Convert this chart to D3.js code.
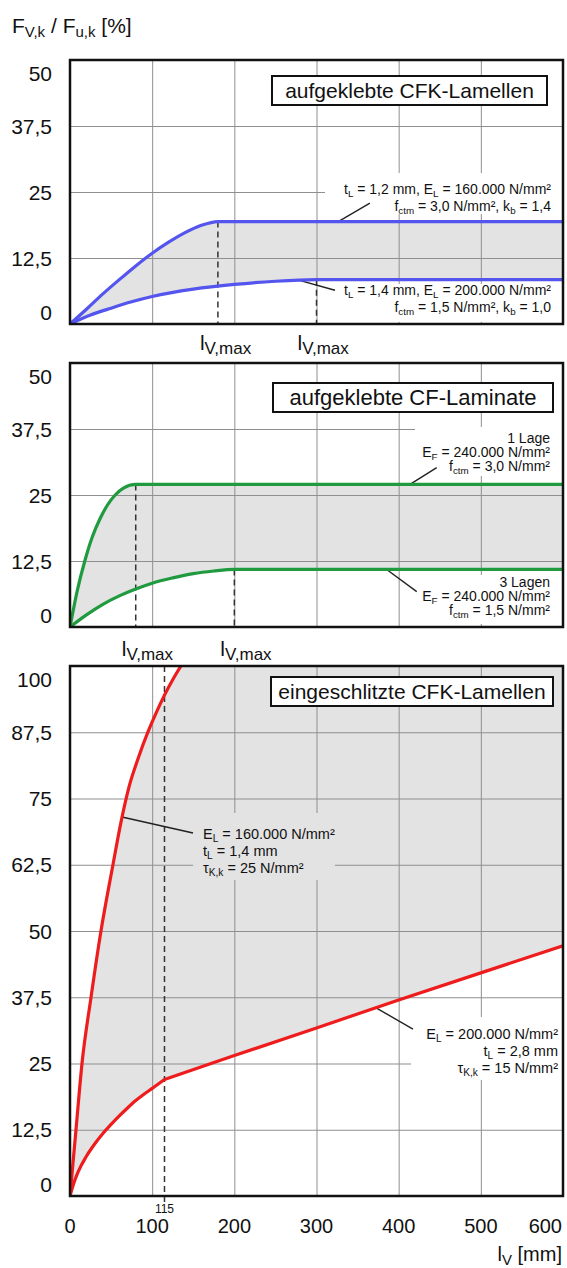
<!DOCTYPE html>
<html><head><meta charset="utf-8">
<script src="https://cdn.jsdelivr.net/npm/d3@7"></script>
<style>body{margin:0;background:#fff} text{font-family:"Liberation Sans", Arial, sans-serif;fill:#111}</style>
</head><body><svg id="c" width="567" height="1268"></svg>
<script>
// ---------- DATA ----------
const xTicks = [0,100,200,300,400,500,600];
const yTicksSmall = [0,12.5,25,37.5,50];
const yTicksBig = [0,12.5,25,37.5,50,62.5,75,87.5,100];

// Panel 1: aufgeklebte CFK-Lamellen
const p1UpperX = [0,20,40,60,80,100,120,140,160,180,600];
const p1UpperY = [0,2.8,5.7,8.4,11,13.4,15.5,17.3,18.7,19.4,19.4];
const p1LowerX = [0,25,50,75,100,150,200,250,300,600];
const p1LowerY = [0,1.7,3.0,4.2,5.2,6.6,7.5,8.1,8.4,8.4];
const p1LvMax = [180,300];

// Panel 2: aufgeklebte CF-Laminate
const p2UpperX = [0,9,18,27,36.5,46,55,65,80,600];
const p2UpperY = [0,7,12.5,17,20.5,23.2,25,26.3,27,27];
const p2LowerX = [0,20,40,60,80,100,125,150,175,200,600];
const p2LowerY = [0,2.3,4.3,5.9,7.2,8.3,9.3,10.1,10.6,10.9,10.9];
const p2LvMax = [80,200];

// Panel 3: eingeschlitzte CFK-Lamellen
const p3UpperX = [0,7.3,14.6,25.6,37.7,52.3,62,72,83,95,105,115,125,135];
const p3UpperY = [0,12.5,25,37.5,50,62.5,70.5,77.3,82.6,87.6,91.2,94.5,97.4,100];
const p3LowerX = [0,5,10,20,30,40,50,60,70,80,90,100,115];
const p3LowerY = [0,2.6,4.6,7.5,9.8,11.8,13.5,15.1,16.6,18,19.2,20.3,22];
const p3LowerLineX = [115,200,300,400,500,600];
const p3LowerLineY = [22,26.5,31.7,37,42.1,47.2];
const p3Mark = 115;

// ---------- SETUP ----------
const svg = d3.select("#c");
const BLUE="#5454ee", GREEN="#1f9a3e", RED="#ee1c1c", FILL="#e3e3e3", GRID="#8f8f8f";
const x = d3.scaleLinear([0,600],[70,563]);
const yTop = d3.scaleLinear([0,50],[324,60]);
const yMid = d3.scaleLinear([0,50],[627,363]);
const yBot = d3.scaleLinear([0,100],[1196,666]);
const fmt = d => String(d).replace(".", ",");
const zip = (xs, ys) => xs.map((v,i)=>[v, ys[i]]);

function rich(g, xpos, ypos, parts, size, anchor){
  const t = g.append("text").attr("x",xpos).attr("y",ypos)
    .attr("font-size",size).attr("text-anchor",anchor||"start");
  let back = 0;
  parts.forEach(p=>{
    if(typeof p === "string"){
      const s = t.append("tspan").text(p);
      if(back){ s.attr("dy",-back); back = 0; }
    } else {
      const s = p.size || size*0.7, dy = p.dy!=null ? p.dy : size*0.2;
      t.append("tspan").attr("font-size",s).attr("dy",dy - back).text(p.sub);
      back = dy;
    }
  });
  return t;
}

function panel(y, ticks, areaPath, clipId){
  const g = svg.append("g");
  const [y0,y1] = y.range();
  g.append("clipPath").attr("id",clipId).append("rect")
    .attr("x",x(0)).attr("y",y1).attr("width",x(600)-x(0)).attr("height",y0-y1);
  const line = d3.line().x(d=>x(d[0])).y(d=>y(d[1])).curve(d3.curveMonotoneX);
  const lin = d3.line().x(d=>x(d[0])).y(d=>y(d[1]));
  g.append("path").attr("d", areaPath(line, lin)).attr("fill",FILL).attr("clip-path",`url(#${clipId})`);
  g.append("g").attr("transform",`translate(0,${y0})`)
    .call(d3.axisBottom(x).tickValues(xTicks.slice(1,-1)).tickSize(-(y0-y1)).tickFormat(""))
    .call(a=>{a.select(".domain").remove(); a.selectAll("line").attr("stroke",GRID).attr("stroke-width",1);});
  g.append("g").attr("transform",`translate(${x(0)},0)`)
    .call(d3.axisLeft(y).tickValues(ticks.slice(1,-1)).tickSize(-(x(600)-x(0))).tickFormat(""))
    .call(a=>{a.select(".domain").remove(); a.selectAll("line").attr("stroke",GRID).attr("stroke-width",1);});
  const last = ticks.length-1;
  g.append("g").selectAll("text").data(ticks).join("text")
    .attr("x",52).attr("y",(d,i)=>y(d) + (i===0?-12:(i===last?13:0)))
    .attr("dy","0.36em").attr("text-anchor","end").attr("font-size",21).text(fmt);
  return {g, line, lin, clip:`url(#${clipId})`};
}

function curves(P, paths, color){
  const g = P.g.append("g").attr("clip-path",P.clip);
  paths.forEach(d=>{
    g.append("path").attr("d",d).attr("fill","none")
      .attr("stroke",color).attr("stroke-width",3.2).attr("stroke-linejoin","round");
  });
}
function border(P, y){
  const [y0,y1] = y.range();
  P.g.append("rect").attr("x",x(0)).attr("y",y1).attr("width",x(600)-x(0)).attr("height",y0-y1)
    .attr("fill","none").attr("stroke","#111").attr("stroke-width",2.5);
}
function titleBox(P, x0, x1, ytop, txt, size){
  P.g.append("rect").attr("x",x0).attr("y",ytop).attr("width",x1-x0).attr("height",29)
    .attr("fill","#fff").attr("stroke","#111").attr("stroke-width",2);
  P.g.append("text").attr("x",(x0+x1)/2).attr("y",ytop+22).attr("font-size",size)
    .attr("text-anchor","middle").text(txt);
}
function bg(P, x0, y0, x1, y1, fill){
  P.g.append("rect").attr("x",x0).attr("y",y0).attr("width",x1-x0).attr("height",y1-y0).attr("fill",fill);
}
function leader(P, y, a, b){
  P.g.append("line").attr("x1",x(a[0])).attr("y1",y(a[1])).attr("x2",x(b[0])).attr("y2",y(b[1]))
    .attr("stroke","#222").attr("stroke-width",1.4);
}
function dashed(P, y, xv, top, bottom){
  P.g.append("line").attr("x1",x(xv)).attr("x2",x(xv)).attr("y1",y(top)).attr("y2",y(bottom))
    .attr("stroke","#333").attr("stroke-width",1.5).attr("stroke-dasharray","6,4");
}
function lvmax(P, xv, base, off){
  rich(P.g, x(xv)-off, base, ["l",{sub:"V,max", size:17, dy:4}], 21);
}

// ---------- PANEL 1 ----------
const U1 = zip(p1UpperX,p1UpperY), L1 = zip(p1LowerX,p1LowerY);
const P1 = panel(yTop, yTicksSmall, line => line(U1) + "L" + line(L1.slice().reverse()).slice(1) + "Z", "c1");
titleBox(P1, 272, 547, 76, "aufgeklebte CFK-Lamellen", 21);
bg(P1, 325, 173, 562, 214, "#fff");
bg(P1, 338, 284, 562, 322, "#fff");
dashed(P1, yTop, p1LvMax[0], p1UpperY[9], 0);
dashed(P1, yTop, p1LvMax[1], p1LowerY[8], 0);
leader(P1, yTop, [326.5,19.4],[365,22.9]);
leader(P1, yTop, [276,8.4],[322.5,6.4]);
rich(P1.g, 551, 194, ["t",{sub:"L"}," = 1,2 mm, E",{sub:"L"}," = 160.000 N/mm²"], 14, "end");
rich(P1.g, 551, 211, ["f",{sub:"ctm"}," = 3,0 N/mm², k",{sub:"b"}," = 1,4"], 14, "end");
rich(P1.g, 551, 295, ["t",{sub:"L"}," = 1,4 mm, E",{sub:"L"}," = 200.000 N/mm²"], 14, "end");
rich(P1.g, 551, 312, ["f",{sub:"ctm"}," = 1,5 N/mm², k",{sub:"b"}," = 1,0"], 14, "end");
curves(P1, [P1.line(U1), P1.line(L1)], BLUE);
border(P1, yTop);
lvmax(P1, p1LvMax[0], 350, 18);
lvmax(P1, p1LvMax[1], 350, 19);

// ---------- PANEL 2 ----------
const U2 = zip(p2UpperX,p2UpperY), L2 = zip(p2LowerX,p2LowerY);
const P2 = panel(yMid, yTicksSmall, line => line(U2) + "L" + line(L2.slice().reverse()).slice(1) + "Z", "c2");
titleBox(P2, 273, 553, 383, "aufgeklebte CF-Laminate", 22);
bg(P2, 415, 427, 562, 476, "#fff");
bg(P2, 415, 575, 562, 624, "#fff");
dashed(P2, yMid, p2LvMax[0], p2UpperY[8], 0);
dashed(P2, yMid, p2LvMax[1], p2LowerY[9], 0);
leader(P2, yMid, [413.8,27],[446.3,30.2]);
leader(P2, yMid, [385.4,10.9],[422,6.7]);
rich(P2.g, 550, 443, ["1 Lage"], 14, "end");
rich(P2.g, 550, 457, ["E",{sub:"F"}," = 240.000 N/mm²"], 14, "end");
rich(P2.g, 550, 471, ["f",{sub:"ctm"}," = 3,0 N/mm²"], 14, "end");
rich(P2.g, 550, 587, ["3 Lagen"], 14, "end");
rich(P2.g, 550, 601, ["E",{sub:"F"}," = 240.000 N/mm²"], 14, "end");
rich(P2.g, 550, 615, ["f",{sub:"ctm"}," = 1,5 N/mm²"], 14, "end");
curves(P2, [P2.line(U2), P2.line(L2)], GREEN);
border(P2, yMid);
lvmax(P2, p2LvMax[0], 656, 14);
lvmax(P2, p2LvMax[1], 656, 14);

// ---------- PANEL 3 ----------
const U3 = zip(p3UpperX,p3UpperY), L3 = zip(p3LowerX,p3LowerY), L3b = zip(p3LowerLineX,p3LowerLineY);
const P3 = panel(yBot, yTicksBig,
  (line, lin) => line(U3) + "L" + x(600) + "," + yBot(100) + "L" + lin(L3b.slice().reverse()).slice(1)
    + "L" + line(L3.slice().reverse()).slice(1) + "Z", "c3");
titleBox(P3, 271, 553, 677, "eingeschlitzte CFK-Lamellen", 21);
bg(P3, 193, 813, 335, 880, FILL);
bg(P3, 411, 1017, 562, 1080, "#fff");
dashed(P3, yBot, p3Mark, 100, -1.6);
leader(P3, yBot, [63.3,71.5],[149.7,68.5]);
leader(P3, yBot, [373.6,35.4],[417.4,31.5]);
rich(P3.g, 203, 839, ["E",{sub:"L"}," = 160.000 N/mm²"], 14.5);
rich(P3.g, 203, 856, ["t",{sub:"L"}," = 1,4 mm"], 14.5);
rich(P3.g, 203, 873, ["τ",{sub:"K,k"}," = 25 N/mm²"], 14.5);
rich(P3.g, 558, 1039, ["E",{sub:"L"}," = 200.000 N/mm²"], 14.5, "end");
rich(P3.g, 558, 1056, ["t",{sub:"L"}," = 2,8 mm"], 14.5, "end");
rich(P3.g, 558, 1073, ["τ",{sub:"K,k"}," = 15 N/mm²"], 14.5, "end");
curves(P3, [P3.line(U3), P3.line(L3), P3.lin(L3b)], RED);
border(P3, yBot);
svg.append("g").selectAll("text").data(xTicks).join("text")
  .attr("x",(d,i)=> i===xTicks.length-1 ? 562 : x(d)).attr("y",1233)
  .attr("text-anchor",(d,i)=> i===xTicks.length-1 ? "end":"middle").attr("font-size",20).text(d=>d);
svg.append("text").attr("x",x(p3Mark)).attr("y",1213).attr("text-anchor","middle").attr("font-size",12).text(p3Mark);
rich(svg, 562, 1261, ["l",{sub:"V", size:15, dy:4}," [mm]"], 20, "end");

rich(svg, 12, 33, ["F",{sub:"V,k", size:15, dy:4}," / F",{sub:"u,k", size:15, dy:4}," [%]"], 21);
</script></body></html>
